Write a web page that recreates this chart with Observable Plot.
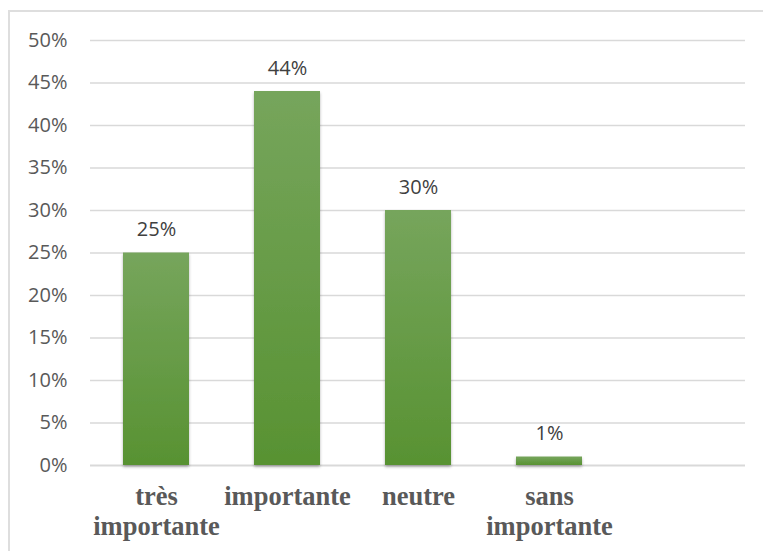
<!DOCTYPE html>
<html>
<head>
<meta charset="utf-8">
<script src="https://cdn.jsdelivr.net/npm/d3@7"></script>
<script src="https://cdn.jsdelivr.net/npm/@observablehq/plot@0.6"></script>
<style>
  html, body { margin: 0; padding: 0; background: #fff; overflow: hidden; }
  #wrap { position: relative; width: 763px; height: 551px; }
  #border { position: absolute; left: 8px; top: 10px; width: 800px; height: 600px;
            border: 2px solid #dedede; box-sizing: border-box; }
  #chart { position: absolute; left: 0; top: 0; }
  g[aria-label="x-axis tick label"] text { font-family: "Liberation Serif", "Times New Roman", serif; font-weight: bold; }
</style>
</head>
<body>
<div id="wrap"><div id="border"></div><div id="chart"></div></div>
<script>
const categories = ["très\nimportante", "importante", "neutre", "sans\nimportante", ""];
const values = [0.25, 0.44, 0.30, 0.01];
const yTicks = [0, 0.05, 0.10, 0.15, 0.20, 0.25, 0.30, 0.35, 0.40, 0.45, 0.50];

const data = values.map((v, i) => ({cat: categories[i], value: v}));

const chart = Plot.plot({
  width: 763,
  height: 551,
  marginLeft: 90,
  marginRight: 18,
  marginTop: 40,
  marginBottom: 86,
  style: {fontFamily: "'Open Sans', sans-serif", background: "transparent"},
  x: {domain: categories, paddingInner: 0.5, paddingOuter: 0.25, label: null},
  y: {domain: [0, 0.5], label: null},
  marks: [
    Plot.ruleY(yTicks.filter(d => d > 0), {stroke: "#d9d9d9", strokeWidth: 1.5}),
    Plot.ruleY([0], {stroke: "#d9d9d9", strokeWidth: 2}),
    Plot.barY(data, {x: "cat", y: "value", fill: "url(#barGrad)"}),
    Plot.text(data, {x: "cat", y: "value", text: d => Math.round(d.value * 100) + "%",
      lineAnchor: "bottom", dy: -17, fontSize: 20, fill: "#404040"}),
    Plot.axisY({ticks: yTicks, tickFormat: d => Math.round(d * 100) + "%", tickSize: 0,
      tickPadding: 23, fontSize: 20, fill: "#595959", label: null}),
    Plot.axisX({tickSize: 0, tickPadding: 18, fontSize: 26.5, fill: "#595959",
      lineHeight: 1.13, label: null})
  ]
});

const svg = d3.select(chart);
const defs = svg.insert("defs", ":first-child");
const g = defs.append("linearGradient").attr("id", "barGrad")
  .attr("x1", 0).attr("y1", 0).attr("x2", 0).attr("y2", 1);
g.append("stop").attr("offset", "0%").attr("stop-color", "#76a55c");
g.append("stop").attr("offset", "100%").attr("stop-color", "#589232");
const f = defs.append("filter").attr("id", "barShadow")
  .attr("x", "-20%").attr("y", "-20%").attr("width", "140%").attr("height", "140%");
f.append("feDropShadow").attr("dx", 0).attr("dy", 2).attr("stdDeviation", 1.5)
  .attr("flood-color", "#000").attr("flood-opacity", 0.3);
svg.selectAll('g[aria-label="bar"]').attr("filter", "url(#barShadow)");

document.getElementById("chart").appendChild(chart);
</script>
</body>
</html>
